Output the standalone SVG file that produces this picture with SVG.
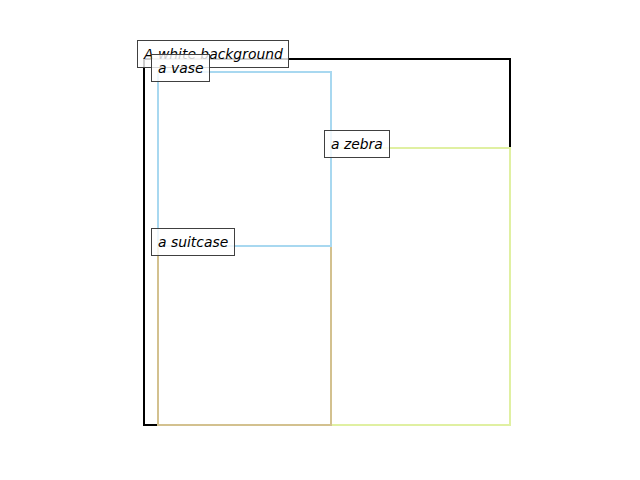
<svg xmlns="http://www.w3.org/2000/svg" width="640" height="480" viewBox="0 0 640 480">
<style>
.lbl rect{fill:#fff;fill-opacity:0.8;stroke:#404040;stroke-width:1}
.lbl text{font-family:"DejaVu Sans",sans-serif;font-style:italic;font-size:13.9px;fill:#000}
.box{fill:none;stroke-width:2}
</style>
<rect width="640" height="480" fill="#fff"/>
<g id="background">
<rect class="box" x="144" y="59" width="366" height="366" stroke="#000"/>
</g>
<g id="zebra">
<rect class="box" x="331" y="148" width="179" height="277" stroke="#e0f0a2"/>
</g>
<g id="suitcase">
<rect class="box" x="158" y="246" width="173" height="179" stroke="#d3c18f"/>
</g>
<g id="vase">
<rect class="box" x="158" y="72" width="173" height="174" stroke="#a8d8f0"/>
</g>
<g id="connectors"></g>
<g id="label-background" class="lbl">
<rect x="137.5" y="40.5" width="151" height="27"/>
<text x="144" y="59">A white background</text>
</g>
<g id="label-vase" class="lbl">
<rect x="151.5" y="54.5" width="58" height="27"/>
<text x="158" y="73">a vase</text>
</g>
<g id="label-suitcase" class="lbl">
<rect x="151.5" y="228.5" width="83" height="27"/>
<text x="158" y="247">a suitcase</text>
</g>
<g id="label-zebra" class="lbl">
<rect x="324.5" y="130.5" width="65" height="27"/>
<text x="331" y="149">a zebra</text>
</g>
</svg>
